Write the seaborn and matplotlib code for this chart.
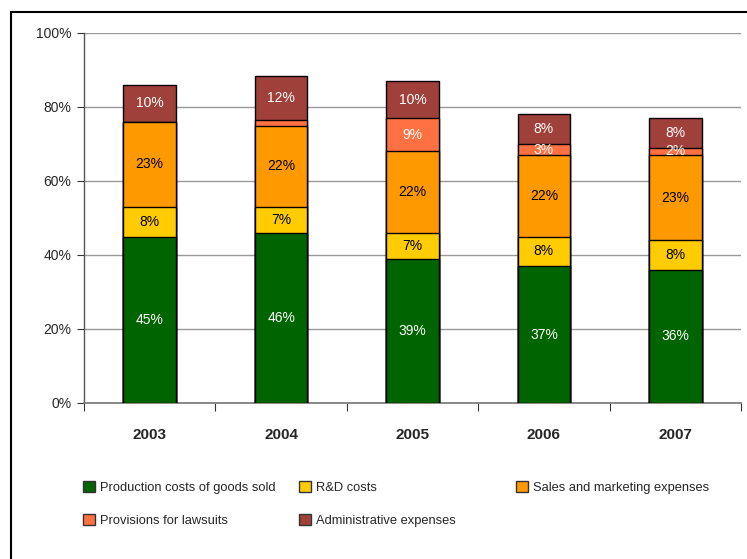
import numpy as np
import pandas as pd
import matplotlib
matplotlib.use("Agg")
import matplotlib.pyplot as plt
from matplotlib.patches import Rectangle, Patch
import seaborn as sns

years = ["2003", "2004", "2005", "2006", "2007"]
production = [45, 46, 39, 37, 36]
rnd = [8, 7, 7, 8, 8]
sales = [23, 22, 22, 22, 23]
provisions = [0, 1.5, 9, 3, 2]
admin = [10, 12, 10, 8, 8]

series_names = ["Production costs of goods sold", "R&D costs",
                "Sales and marketing expenses", "Provisions for lawsuits",
                "Administrative expenses"]
series_values = [production, rnd, sales, provisions, admin]
colors = ["#006400", "#FFCC00", "#FF9900", "#FF7043", "#A0403A"]
label_colors = ["white", "black", "black", "white", "white"]

sns.set_style("white")
plt.rcParams["font.family"] = ["Liberation Sans", "DejaVu Sans"]

fig = plt.figure(figsize=(7.47, 5.59), dpi=100)
ax = fig.add_axes([84 / 747, 1 - 403 / 559, (741 - 84) / 747, (403 - 33) / 559])

vals = np.array(series_values, dtype=float)
cum = np.cumsum(vals, axis=0)

# stacked bars: draw cumulative totals from the top layer down
for i in range(len(series_names) - 1, -1, -1):
    df = pd.DataFrame({"year": years, "value": cum[i]})
    sns.barplot(data=df, x="year", y="value", color=colors[i], width=0.4,
                edgecolor="black", linewidth=1.0, saturation=1, ax=ax, zorder=3)

# segment value labels
for i, s in enumerate(series_values):
    for j, v in enumerate(s):
        if v >= 2:
            ax.text(j, cum[i][j] - v / 2, f"{v:.0f}%", ha="center", va="center",
                    color=label_colors[i], fontsize=10, zorder=5)

ax.set_xlim(-0.5, 4.5)
ax.set_ylim(0, 100)
ax.set_yticks(np.arange(0, 101, 20))
ax.set_yticklabels([f"{t}%" for t in range(0, 101, 20)], fontsize=10)
ax.yaxis.grid(True, color="#999999", linewidth=1.0, zorder=0)
ax.set_axisbelow(True)

ax.set_xticks(np.arange(-0.5, 5, 1))
ax.set_xticklabels([])
ax.set_xticks(np.arange(5), minor=True)
ax.set_xticklabels(years, minor=True, fontsize=11, fontweight="bold")
ax.tick_params(axis="x", which="major", length=6, color="#333333", direction="out", bottom=True)
ax.tick_params(axis="x", which="minor", length=0, pad=18)
ax.tick_params(axis="y", length=5, color="#333333", direction="out", left=True, pad=4)
ax.set_xlabel("")
ax.set_ylabel("")

for side in ["top", "right"]:
    ax.spines[side].set_visible(False)
ax.spines["left"].set_color("#555555")
ax.spines["bottom"].set_color("#777777")
ax.spines["left"].set_linewidth(1.0)
ax.spines["bottom"].set_linewidth(1.2)

# outer chart frame
fig.patches.append(Rectangle((11 / 747, -0.2), 1.5, 1.2 - 12 / 559,
                             transform=fig.transFigure, fill=False,
                             edgecolor="black", linewidth=1.5))

# legend laid out in three columns
handles = [Patch(facecolor=c, edgecolor="#333333", linewidth=1.0) for c in colors]
columns = [([0, 3], 83), ([1, 4], 299), ([2], 516)]
for idx, xpix in columns:
    fig.legend([handles[k] for k in idx], [series_names[k] for k in idx],
               loc="upper left", bbox_to_anchor=(xpix / 747, 1 - 481 / 559),
               frameon=False, fontsize=9.3, handlelength=0.9, handleheight=0.9,
               handletextpad=0.4, labelspacing=1.6, borderpad=0, borderaxespad=0)

fig.savefig("out.png", dpi=100)
